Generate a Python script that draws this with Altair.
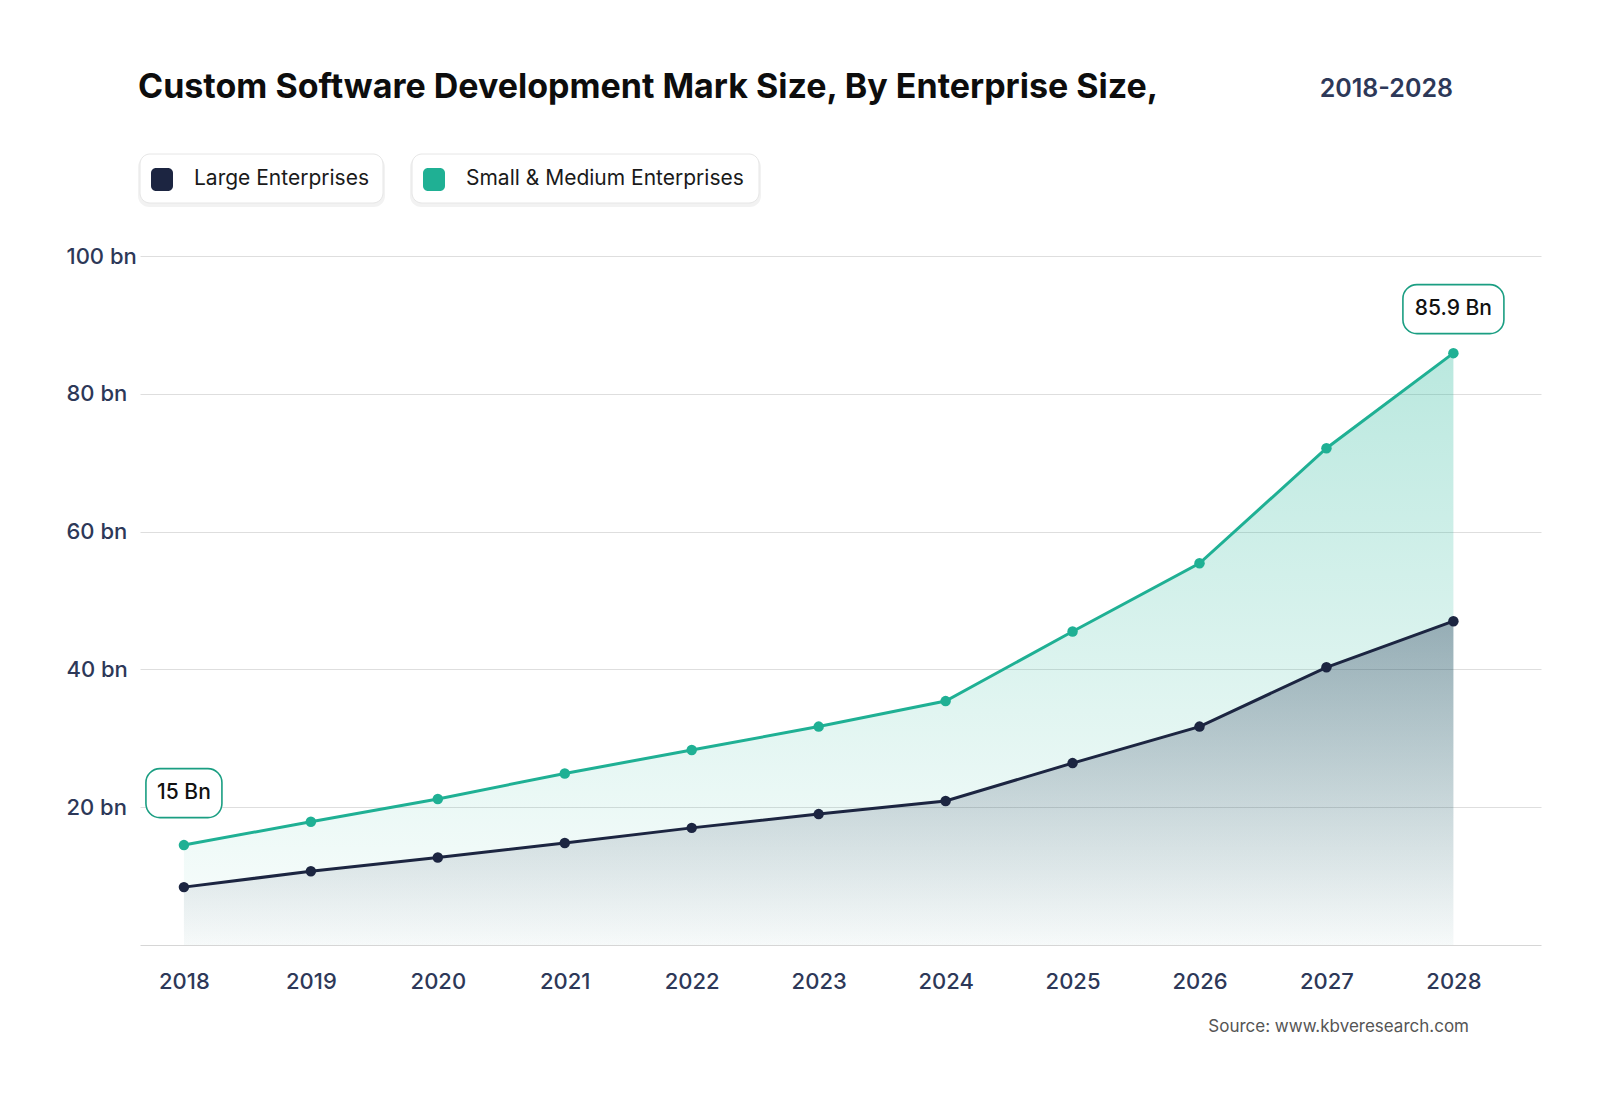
import altair as alt
import pandas as pd

# ---- data ----
years = [2018, 2019, 2020, 2021, 2022, 2023, 2024, 2025, 2026, 2027, 2028]
large = [8.4, 10.7, 12.7, 14.8, 17.0, 19.0, 20.9, 26.4, 31.7, 40.3, 47.0]
sme = [14.5, 17.9, 21.2, 24.9, 28.3, 31.7, 35.4, 45.5, 55.4, 72.1, 85.9]
series_names = ["Large Enterprises", "Small & Medium Enterprises"]
y_ticks = [20, 40, 60, 80, 100]
callout_years = [2018, 2028]
callout_labels = ["15 Bn", "85.9 Bn"]
title_text = "Custom Software Development Mark Size, By Enterprise Size,"
period_text = "2018-2028"
source_text = "Source: www.kbveresearch.com"

df = pd.DataFrame({"year": years, "large": large, "sme": sme})
call_df = pd.DataFrame({
    "year": callout_years,
    "label": callout_labels,
    "value": [sme[years.index(y)] for y in callout_years],
})
one = pd.DataFrame({"k": [0]})

FONT = "Inter"
GREEN = "#1fb094"
DARK = "#1c2541"
LABEL_C = "#2d3858"

xscale = alt.Scale(domain=[2017.654, 2028.69], nice=False, zero=False)
yscale = alt.Scale(domain=[0, 100], nice=False)

x_axis = alt.Axis(values=years, format="d", title=None, grid=False, ticks=False,
                  domain=True, domainColor="#d6d6d6", domainWidth=1.2,
                  labelFont=FONT, labelFontSize=22, labelFontWeight=500,
                  labelColor=LABEL_C, labelPadding=26)
y_axis = alt.Axis(values=y_ticks, title=None, grid=True, gridColor="#dedede",
                  gridWidth=1, domain=False, ticks=False, labelAlign="left",
                  labelBaseline="middle", labelPadding=74,
                  labelExpr="datum.value + ' bn'", labelFont=FONT,
                  labelFontSize=22, labelFontWeight=500, labelColor=LABEL_C)


def X():
    return alt.X("year:Q", scale=xscale, axis=x_axis)


def Y(field):
    return alt.Y(field, scale=yscale, axis=y_axis)


base = alt.Chart(df)

green_area = base.mark_area(
    color=alt.Gradient(gradient="linear", x1=0, y1=0, x2=0, y2=1, stops=[
        alt.GradientStop(color="rgba(26,179,148,0.30)", offset=0),
        alt.GradientStop(color="rgba(26,179,148,0.02)", offset=1)])
).encode(x=X(), y=Y("sme:Q"))

dark_area = base.mark_area(
    color=alt.Gradient(gradient="linear", x1=0, y1=0, x2=0, y2=1, stops=[
        alt.GradientStop(color="rgba(34,52,84,0.36)", offset=0),
        alt.GradientStop(color="rgba(34,52,84,0.02)", offset=1)])
).encode(x=X(), y=Y("large:Q"))

green_line = base.mark_line(color=GREEN, strokeWidth=3).encode(x=X(), y=Y("sme:Q"))
green_pts = base.mark_point(color=GREEN, filled=True, opacity=1, size=110).encode(
    x=X(), y=Y("sme:Q"))
dark_line = base.mark_line(color=DARK, strokeWidth=3).encode(x=X(), y=Y("large:Q"))
dark_pts = base.mark_point(color=DARK, filled=True, opacity=1, size=110).encode(
    x=X(), y=Y("large:Q"))

# call-outs
callout_layers = []
offsets = {2018: -52, 2028: -44}
widths = {2018: 76, 2028: 101}
for yr in callout_years:
    c = alt.Chart(call_df).transform_filter(alt.datum.year == yr)
    box = c.mark_rect(width=widths[yr], height=49, cornerRadius=14, fill="white",
                      stroke="#1a9e82", strokeWidth=1.6, yOffset=offsets[yr]).encode(
        x=X(), y=Y("value:Q"))
    txt = c.mark_text(font=FONT, fontSize=21, fontWeight=500, color="#111111",
                      yOffset=offsets[yr], baseline="middle", align="center").encode(
        x=X(), y=Y("value:Q"), text="label:N")
    callout_layers += [box, txt]

# title texts
oc = alt.Chart(one)
title = oc.mark_text(text=title_text, font=FONT, fontSize=34, fontWeight=700,
                     color="#0d0d0d", align="left", baseline="alphabetic").encode(
    x=alt.value(-2), y=alt.value(-158))
period = oc.mark_text(text=period_text, font=FONT, fontSize=25, fontWeight=600,
                      color=LABEL_C, align="right", baseline="alphabetic").encode(
    x=alt.value(1313), y=alt.value(-159))
source = oc.mark_text(text=source_text, font=FONT, fontSize=17, fontWeight=400,
                      color="#555555", align="right", baseline="middle").encode(
    x=alt.value(1329), y=alt.value(771))

# legend
legend_layers = []
boxes = [(0, 243), (272, 619)]
for i, (bx0, bx1) in enumerate(boxes):
    shadow = oc.mark_rect(cornerRadius=11, fill="rgba(0,0,0,0.05)").encode(
        x=alt.value(bx0 - 2), x2=alt.value(bx1 + 2), y=alt.value(-100), y2=alt.value(-49))
    box = oc.mark_rect(cornerRadius=10, fill="white", stroke="#e6e6e6", strokeWidth=1).encode(
        x=alt.value(bx0), x2=alt.value(bx1), y=alt.value(-102), y2=alt.value(-53))
    sw = oc.mark_rect(cornerRadius=5, fill=[DARK, GREEN][i]).encode(
        x=alt.value(bx0 + 11), x2=alt.value(bx0 + 33), y=alt.value(-88), y2=alt.value(-65))
    tx = oc.mark_text(text=series_names[i], font=FONT, fontSize=21, fontWeight=400,
                      color="#1a1a1a", align="left", baseline="middle").encode(
        x=alt.value(bx0 + 54), y=alt.value(-77))
    legend_layers += [shadow, box, sw, tx]

chart = alt.layer(
    green_area, dark_area, green_line, dark_line, green_pts, dark_pts,
    *callout_layers, title, period, source, *legend_layers
).properties(
    width=1401, height=689,
    background="white",
    autosize=alt.AutoSizeParams(type="none"),
    padding={"left": 132, "top": 248, "right": 40, "bottom": 120},
).configure_view(stroke=None)

chart.save("out.html", embed_options={"renderer": "svg", "actions": False})
